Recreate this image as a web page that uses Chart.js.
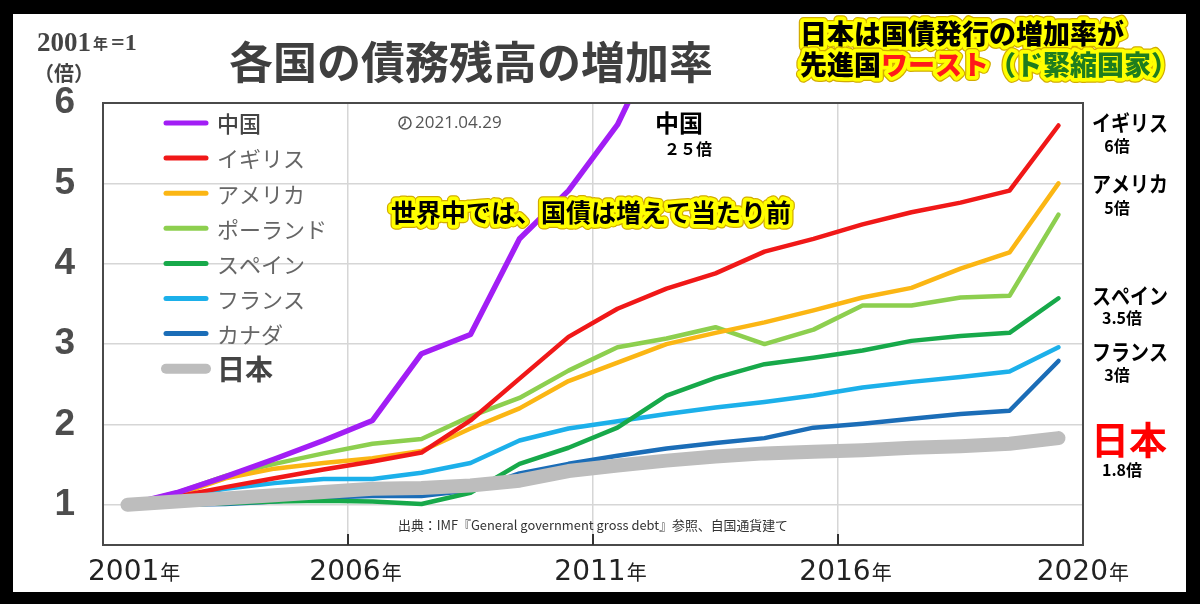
<!DOCTYPE html>
<html><head><meta charset="utf-8">
<script src="https://cdn.jsdelivr.net/npm/chart.js@4.4.1/dist/chart.umd.min.js"></script>
<style>html,body{margin:0;padding:0;background:#000;}canvas{display:block}</style>
</head><body>
<canvas id="c" width="1200" height="604"></canvas>
<script>
// ---------- data ----------
const years = ['2001','2002','2003','2004','2005','2006','2007','2008','2009','2010',
               '2011','2012','2013','2014','2015','2016','2017','2018','2019','2020'];
const xTickLabels = ['2001','2006','2011','2016','2020'];
const xTickBoundaries = [0, 5, 10, 15, 20];
const yTicks = [1, 2, 3, 4, 5, 6];

const seriesNames = ['中国','イギリス','アメリカ','ポーランド','スペイン','フランス','カナダ','日本'];
const china  = [1.00,1.15,1.35,1.57,1.80,2.05,2.88,3.12,4.31,4.91,5.73,7.00,null,null,null,null,null,null,null,null];
const uk     = [1.00,1.10,1.22,1.33,1.44,1.54,1.65,2.05,2.57,3.09,3.44,3.69,3.88,4.15,4.31,4.49,4.64,4.76,4.91,5.72];
const us     = [1.00,1.12,1.33,1.45,1.52,1.58,1.67,1.95,2.20,2.54,2.77,3.00,3.14,3.27,3.42,3.58,3.70,3.94,4.14,5.00];
const poland = [1.00,1.15,1.36,1.51,1.64,1.76,1.82,2.10,2.33,2.67,2.96,3.07,3.21,3.00,3.18,3.48,3.48,3.58,3.60,4.61];
const spain  = [1.00,1.00,1.02,1.04,1.05,1.04,1.01,1.15,1.51,1.71,1.96,2.36,2.58,2.75,2.83,2.92,3.04,3.10,3.14,3.57];
const france = [1.00,1.10,1.20,1.27,1.32,1.32,1.40,1.52,1.80,1.95,2.04,2.13,2.21,2.28,2.36,2.46,2.53,2.59,2.66,2.96];
const canada = [1.00,1.00,1.01,1.04,1.09,1.11,1.11,1.18,1.39,1.51,1.61,1.70,1.77,1.83,1.96,2.01,2.07,2.13,2.17,2.79];
const japan  = [1.00,1.04,1.08,1.12,1.16,1.20,1.21,1.24,1.30,1.42,1.49,1.55,1.60,1.64,1.66,1.68,1.71,1.73,1.76,1.83];

const endLabels = [
  ['イギリス','6倍'], ['アメリカ','5倍'], ['スペイン','3.5倍'], ['フランス','3倍'], ['日本','1.8倍']
];

// ---------- styles ----------
const colors = ['#a21ef5','#f01818','#fbb614','#8dcf4f','#17a94a','#1cb0ea','#1b6db7','#bdbdbd'];
const widths = [5.5, 4.5, 4.5, 4.5, 4.5, 4.5, 4.5, 14];
const allSeries = [china, uk, us, poland, spain, france, canada, japan];
const JP = '"Noto Sans CJK JP", sans-serif';

const datasets = allSeries.map((d, i) => ({
  label: seriesNames[i],
  data: d,
  borderColor: colors[i],
  backgroundColor: colors[i],
  borderWidth: widths[i],
  pointRadius: 0,
  pointHoverRadius: 0,
  tension: 0,
  fill: false,
  borderCapStyle: 'round',
  borderJoinStyle: 'round',
  order: i === 7 ? -1 : i
}));

function glowText(ctx, parts, x, y, font) {
  ctx.save();
  ctx.font = font;
  ctx.textBaseline = 'middle';
  ctx.textAlign = 'left';
  ctx.lineJoin = 'round';
  let cx = x;
  parts.forEach(p => { ctx.strokeStyle = '#d2ac00'; ctx.lineWidth = 10; ctx.strokeText(p.t, cx, y); cx += ctx.measureText(p.t).width; });
  cx = x;
  parts.forEach(p => { ctx.strokeStyle = '#ffff00'; ctx.lineWidth = 7.5; ctx.strokeText(p.t, cx, y); cx += ctx.measureText(p.t).width; });
  cx = x;
  parts.forEach(p => { ctx.fillStyle = p.c; ctx.fillText(p.t, cx, y); cx += ctx.measureText(p.t).width; });
  ctx.restore();
}

const decor = {
  id: 'decor',
  beforeDraw(chart) {
    const ctx = chart.ctx;
    ctx.save();
    ctx.fillStyle = '#000';
    ctx.fillRect(0, 0, chart.width, chart.height);
    ctx.fillStyle = '#fff';
    ctx.fillRect(13, 14, 1173, 578);
    ctx.restore();
  },
  afterDatasetsDraw(chart) {
    const ctx = chart.ctx, a = chart.chartArea, xs = chart.scales.x;
    const step = xs.width / years.length;
    ctx.save();
    ctx.strokeStyle = '#4a4a4a';
    ctx.lineWidth = 2;
    ctx.strokeRect(a.left, a.top, a.right - a.left, a.bottom - a.top);
    ctx.strokeStyle = '#333';
    xTickBoundaries.forEach(b => {
      if (b === 0 || b === years.length) return;
      const px = xs.left + b * step;
      ctx.beginPath(); ctx.moveTo(px, a.bottom); ctx.lineTo(px, a.bottom - 11); ctx.stroke();
    });
    ctx.restore();
  },
  afterDraw(chart) {
    const ctx = chart.ctx, xs = chart.scales.x;
    const step = xs.width / years.length;
    ctx.save();
    // x labels
    ctx.textBaseline = 'alphabetic';
    ctx.textAlign = 'left';
    xTickLabels.forEach((lab, k) => {
      const b = xs.left + xTickBoundaries[k] * step;
      ctx.font = '28px "DejaVu Sans", sans-serif';
      const w1 = ctx.measureText(lab).width;
      ctx.font = '20px ' + JP;
      const w2 = ctx.measureText('年').width;
      let x0;
      if (k === 0) x0 = b - 15;
      else if (k === xTickLabels.length - 1) x0 = b + 45 - (w1 + w2);
      else x0 = b + 7 - (w1 + w2) / 2;
      ctx.fillStyle = '#222';
      ctx.font = '28px "DejaVu Sans", sans-serif';
      ctx.fillText(lab, x0, 580);
      ctx.font = '20px ' + JP;
      ctx.fillText('年', x0 + w1 + 1, 580);
    });

    // legend
    chart.data.datasets.forEach((ds, i) => {
      const y = 123 + i * 35.1;
      ctx.strokeStyle = ds.borderColor;
      ctx.lineCap = 'round';
      ctx.lineWidth = i === 7 ? 10 : 5;
      ctx.beginPath(); ctx.moveTo(166, y); ctx.lineTo(206, y); ctx.stroke();
      ctx.textBaseline = 'middle';
      if (i === 7) { ctx.font = 'bold 28px ' + JP; ctx.fillStyle = '#444'; }
      else if (i === 0) { ctx.font = '500 22px ' + JP; ctx.fillStyle = '#444'; }
      else { ctx.font = '22px ' + JP; ctx.fillStyle = '#666'; }
      ctx.fillText(ds.label, 217, y + 1);
    });

    // title
    ctx.textAlign = 'center';
    ctx.textBaseline = 'middle';
    ctx.fillStyle = '#3f3f3f';
    ctx.font = 'bold 44px ' + JP;
    ctx.fillText('各国の債務残高の増加率', 471, 62);

    // unit label
    ctx.textAlign = 'left';
    ctx.textBaseline = 'alphabetic';
    ctx.fillStyle = '#444';
    ctx.font = 'bold 27px "Liberation Serif", serif';
    ctx.fillText('2001', 37, 51);
    let w = ctx.measureText('2001').width;
    ctx.font = 'bold 15px ' + JP;
    ctx.fillText('年', 37 + w + 2, 49);
    ctx.font = 'bold 24px "Liberation Serif", serif';
    ctx.fillText('=1', 37 + w + 20, 50);
    ctx.font = 'bold 20px ' + JP;
    ctx.textBaseline = 'middle';
    ctx.fillText('（倍）', 34, 73);

    // date stamp
    ctx.strokeStyle = '#555';
    ctx.lineWidth = 1.5;
    ctx.beginPath(); ctx.arc(405, 123, 6, 0, Math.PI * 2); ctx.stroke();
    ctx.beginPath(); ctx.moveTo(405, 119); ctx.lineTo(405, 123); ctx.lineTo(402, 126); ctx.stroke();
    ctx.fillStyle = '#555';
    ctx.font = '17px "Open Sans", sans-serif';
    ctx.textBaseline = 'middle';
    ctx.fillText('2021.04.29', 415, 123);

    // china annotation
    ctx.fillStyle = '#000';
    ctx.textAlign = 'center';
    ctx.font = 'bold 24px ' + JP;
    ctx.fillText('中国', 679, 123);
    ctx.font = 'bold 16px ' + JP;
    ctx.fillText('２５倍', 688, 149);

    // source
    ctx.fillStyle = '#333';
    ctx.font = '13px ' + JP;
    ctx.fillText('出典：IMF『General government gross debt』参照、自国通貨建て', 593, 525, 390);

    // end labels
    const nameY = [123, 184, 296, 352, 440];
    const valY = [146, 208, 318, 375, 470];
    endLabels.forEach((e, k) => {
      ctx.textAlign = 'left';
      if (k === 4) {
        ctx.fillStyle = '#ff0000';
        ctx.font = 'bold 38px ' + JP;
        ctx.fillText(e[0], 1091, nameY[k]);
      } else {
        ctx.fillStyle = '#000';
        ctx.font = 'bold 22px ' + JP;
        ctx.fillText(e[0], 1092, nameY[k], 76);
      }
      ctx.fillStyle = '#000';
      ctx.textAlign = 'center';
      ctx.font = 'bold 16px ' + JP;
      ctx.fillText(e[1], e[1].length > 2 ? 1122 : 1117, valY[k]);
    });
    ctx.restore();

    // yellow glow annotations
    glowText(ctx, [{t: '世界中では、国債は増えて当たり前', c: '#000'}], 391, 212, 'bold 25px ' + JP);
    glowText(ctx, [{t: '日本は国債発行の増加率が', c: '#000'}], 800, 34, '900 27px ' + JP);
    glowText(ctx, [{t: '先進国', c: '#000'}, {t: 'ワースト', c: '#ff1a1a'}, {t: '（ド緊縮国家）', c: '#1e7d1e'}], 800, 65, '900 27px ' + JP);
  }
};

new Chart(document.getElementById('c'), {
  type: 'line',
  data: { labels: years, datasets },
  options: {
    responsive: false,
    devicePixelRatio: 1,
    animation: false,
    layout: { padding: { left: 13, top: 103, right: 117, bottom: 12 } },
    plugins: { legend: { display: false }, tooltip: { enabled: false }, title: { display: false } },
    scales: {
      x: {
        type: 'category',
        offset: true,
        grid: {
          offset: true,
          drawTicks: false,
          lineWidth: 1.5,
          color: c => (xTickBoundaries.includes(c.index) && c.index !== 0) ? '#d6d6d6' : 'rgba(0,0,0,0)'
        },
        border: { display: false },
        ticks: { display: false },
        afterFit: s => { s.height = 47; }
      },
      y: {
        min: 0.5,
        max: 6,
        afterBuildTicks: s => { s.ticks = yTicks.map(v => ({ value: v })); },
        grid: { drawTicks: false, color: '#d6d6d6', lineWidth: 1.5 },
        border: { display: false },
        ticks: {
          padding: 28,
          color: '#4d4d4d',
          font: { family: '"Liberation Sans", sans-serif', size: 37, weight: 'bold' },
          callback: v => String(v)
        },
        afterFit: s => { s.width = 90; }
      }
    }
  },
  plugins: [decor]
});
</script>
</body></html>
